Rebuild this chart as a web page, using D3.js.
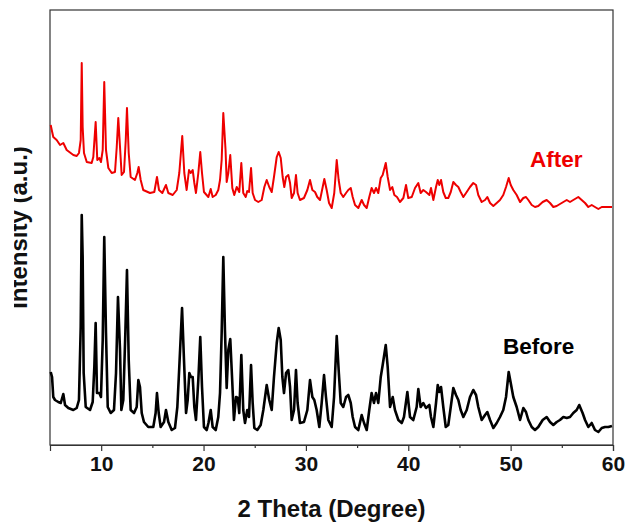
<!DOCTYPE html>
<html>
<head>
<meta charset="utf-8">
<script src="https://cdn.jsdelivr.net/npm/d3@7"></script>
<style>
  html, body { margin: 0; padding: 0; background: #ffffff; }
  svg { display: block; }
  text { font-family: "Liberation Sans", Arial, sans-serif; font-weight: bold; }
</style>
</head>
<body>
<svg id="chart" width="629" height="524"></svg>
<script>
// Powder XRD patterns, 2θ in degrees; intensities in arbitrary units
// ("After" is plotted with its vertical offset already included).
const beforeTheta = [5.07,5.20,5.32,5.49,5.81,6.05,6.30,6.47,6.79,7.28,7.61,7.83,8.00,8.10,8.19,8.29,8.49,8.91,9.17,9.33,9.46,9.59,9.82,9.98,10.15,10.30,10.47,10.64,10.93,11.25,11.45,11.64,11.84,11.97,12.16,12.36,12.52,12.69,12.88,13.21,13.47,13.63,13.79,13.96,14.18,14.60,15.09,15.32,15.45,15.62,15.81,16.14,16.33,16.56,16.89,17.21,17.44,17.63,17.90,18.09,18.29,18.45,18.61,18.77,18.94,19.10,19.26,19.49,19.68,19.85,20.04,20.31,20.48,20.70,20.89,21.19,21.44,21.61,21.77,21.93,22.09,22.26,22.42,22.61,22.81,22.97,23.17,23.34,23.49,23.69,23.88,24.05,24.27,24.44,24.64,24.80,24.96,25.25,25.58,25.84,26.17,26.42,26.66,26.88,27.15,27.34,27.54,27.70,27.86,28.06,28.28,28.45,28.61,28.84,29.03,29.19,29.42,29.81,30.14,30.40,30.63,30.82,31.05,31.31,31.54,31.77,31.96,32.19,32.52,32.75,33.01,33.20,33.40,33.65,33.92,34.14,34.38,34.57,34.80,35.12,35.45,35.68,35.94,36.19,36.42,36.65,36.85,37.07,37.31,37.50,37.80,37.99,38.22,38.48,38.70,39.03,39.36,39.58,39.91,40.17,40.49,40.82,40.98,41.21,41.47,41.73,42.06,42.22,42.45,42.71,42.88,43.03,43.20,43.42,43.66,43.91,44.15,44.40,44.66,44.89,45.12,45.38,45.71,46.03,46.35,46.62,46.84,47.17,47.50,47.72,47.99,48.31,48.64,48.96,49.28,49.55,49.81,50.01,50.26,50.59,50.92,51.24,51.50,51.73,52.06,52.38,52.70,53.13,53.52,53.85,54.17,54.50,54.82,55.15,55.48,55.80,56.12,56.45,56.70,57.03,57.27,57.59,57.92,58.24,58.57,58.90,59.22,59.54,59.90];
const beforeIntensity = [73,68,48,45,43,42,51,40,37,35,37,45,118,230,188,72,38,35,43,78,122,52,52,48,105,208,112,38,32,35,72,148,95,35,45,112,175,85,35,32,38,65,58,32,23,18,18,32,52,32,18,23,35,23,15,17,38,78,137,85,32,45,72,68,68,38,25,65,108,58,18,15,22,35,18,15,28,52,112,188,115,57,95,106,62,25,48,47,32,90,35,22,35,28,80,42,17,15,20,35,60,45,35,68,102,117,105,68,52,72,75,58,25,35,75,42,22,23,35,65,48,45,35,18,42,70,48,25,18,48,109,75,42,38,48,50,42,28,18,15,30,22,15,35,52,42,52,42,68,80,100,78,38,48,35,25,22,28,53,28,25,38,56,38,42,37,40,28,18,42,60,53,58,38,18,20,38,57,50,45,35,28,35,48,55,50,38,25,30,33,25,17,22,28,35,48,73,62,48,38,25,37,33,25,18,15,18,25,28,23,20,23,25,28,27,28,32,35,40,32,25,18,22,15,13,17,18,18,19];

const afterTheta = [5.07,5.17,5.32,5.65,5.98,6.30,6.63,7.28,7.61,7.83,8.00,8.10,8.19,8.32,8.59,9.07,9.23,9.46,9.62,9.82,9.98,10.15,10.30,10.47,10.70,11.03,11.35,11.52,11.67,11.84,12.00,12.23,12.40,12.52,12.69,12.88,13.30,13.53,13.66,13.86,14.11,14.77,15.19,15.45,15.65,15.97,16.33,16.56,16.99,17.38,17.63,17.92,18.12,18.35,18.58,18.75,18.94,19.10,19.26,19.49,19.68,19.85,20.04,20.47,20.70,20.89,21.19,21.44,21.61,21.77,21.93,22.15,22.26,22.42,22.61,22.81,23.00,23.24,23.49,23.69,23.88,24.12,24.27,24.44,24.64,24.80,25.03,25.35,25.68,25.94,26.17,26.42,26.66,26.88,27.15,27.34,27.54,27.73,27.89,28.06,28.28,28.45,28.61,28.84,29.03,29.19,29.42,29.81,30.14,30.40,30.63,30.89,31.11,31.38,31.64,31.80,32.03,32.26,32.52,32.77,33.01,33.20,33.40,33.65,33.92,34.14,34.38,34.57,34.80,35.12,35.45,35.68,35.94,36.19,36.42,36.65,36.85,37.07,37.31,37.50,37.80,37.99,38.22,38.44,38.64,38.90,39.19,39.52,39.78,40.00,40.34,40.66,40.98,41.21,41.47,41.73,42.06,42.22,42.45,42.71,42.88,43.03,43.20,43.42,43.66,43.91,44.15,44.40,44.66,44.89,45.12,45.38,45.71,46.03,46.35,46.62,46.84,47.17,47.50,47.72,47.99,48.31,48.64,48.96,49.28,49.55,49.81,50.01,50.26,50.59,50.92,51.24,51.50,51.73,52.06,52.38,52.70,53.13,53.52,53.85,54.17,54.50,54.82,55.15,55.48,55.80,56.12,56.61,56.94,57.27,57.59,57.92,58.24,58.57,58.90,59.22,59.54,59.90];
const afterIntensity = [320,315,308,305,300,302,295,290,289,292,305,382,318,292,283,282,288,323,285,287,283,295,363,295,277,272,273,298,327,298,270,273,305,337,292,268,265,272,278,265,255,252,253,268,255,252,260,252,250,255,272,309,272,255,275,272,275,262,252,272,293,272,253,248,256,248,250,255,265,285,332,295,263,272,290,257,250,258,253,282,252,248,254,253,277,252,245,243,245,258,265,258,253,268,288,293,287,268,258,268,270,262,247,252,270,252,245,247,255,265,255,253,248,245,258,266,255,242,237,252,285,265,252,248,252,255,257,248,240,237,245,240,237,248,257,252,257,252,267,270,282,268,255,258,250,248,243,247,260,247,248,257,262,252,255,253,250,257,245,258,265,260,265,253,247,247,253,263,260,258,253,248,253,258,262,260,250,243,245,248,242,239,242,245,250,258,267,260,255,250,243,247,248,245,240,238,239,243,245,242,238,239,241,243,245,243,245,248,245,242,238,240,238,236,238,238,238,238];

const xTicks = [10, 20, 30, 40, 50, 60];
const xMinorTicks = [15, 25, 35, 45, 55];
const seriesLabels = ["Before", "After"];
const seriesColors = ["#000000", "#ee0000"];

const svg = d3.select("#chart");
const frame = { left: 50, right: 613, top: 10, bottom: 445 };

const x = d3.scaleLinear().domain([5, 60]).range([frame.left, frame.right]);
const y = d3.scaleLinear().domain([0, 435]).range([frame.bottom, frame.top]);

// plot frame
svg.append("rect")
  .attr("x", frame.left).attr("y", frame.top)
  .attr("width", frame.right - frame.left)
  .attr("height", frame.bottom - frame.top)
  .attr("fill", "none").attr("stroke", "#333").attr("stroke-width", 1.2);

// bottom axis with major and minor ticks
const axis = svg.append("g").attr("transform", `translate(0,${frame.bottom})`);
axis.call(d3.axisBottom(x).tickValues(xTicks).tickSize(6).tickPadding(5).tickFormat(d3.format("d")));
axis.select(".domain").attr("stroke", "#333").attr("stroke-width", 1.2);
axis.selectAll(".tick line").attr("stroke", "#333").attr("stroke-width", 1.2);
axis.selectAll(".tick text")
  .attr("fill", "#111")
  .style("font-size", "21px")
  .style("font-family", "'Liberation Sans', Arial, sans-serif")
  .style("font-weight", "bold");
const minor = svg.append("g").attr("transform", `translate(0,${frame.bottom})`);
minor.call(d3.axisBottom(x).tickValues(xMinorTicks).tickSize(3).tickFormat(""));
minor.select(".domain").remove();
minor.selectAll(".tick line").attr("stroke", "#333").attr("stroke-width", 1.2);

// patterns
const line = d3.line().x(d => x(d[0])).y(d => y(d[1]));
const series = [
  { theta: beforeTheta, values: beforeIntensity, width: 2.6 },
  { theta: afterTheta, values: afterIntensity, width: 2 }
];
series.forEach((s, i) => {
  svg.append("path")
    .datum(s.theta.map((t, k) => [t, s.values[k]]))
    .attr("fill", "none")
    .attr("stroke", seriesColors[i])
    .attr("stroke-width", s.width)
    .attr("stroke-linejoin", "round")
    .attr("d", line);
});

// curve labels
svg.append("text").attr("x", 503).attr("y", 354)
  .attr("fill", seriesColors[0]).style("font-size", "22.5px").text(seriesLabels[0]);
svg.append("text").attr("x", 530).attr("y", 167)
  .attr("fill", seriesColors[1]).style("font-size", "22.5px").text(seriesLabels[1]);

// axis titles
svg.append("text")
  .attr("x", (frame.left + frame.right) / 2).attr("y", 517)
  .attr("text-anchor", "middle").attr("fill", "#111")
  .style("font-size", "24px").text("2 Theta (Degree)");

svg.append("clipPath").attr("id", "ylabel-clip")
  .append("rect").attr("x", 14).attr("y", 0).attr("width", 40).attr("height", 524);
svg.append("g").attr("clip-path", "url(#ylabel-clip)")
  .append("text")
  .attr("transform", `translate(27,${(frame.top + frame.bottom) / 2}) rotate(-90)`)
  .attr("text-anchor", "middle").attr("fill", "#111")
  .style("font-size", "24px").text("Intensity (a.u.)");
</script>
</body>
</html>
